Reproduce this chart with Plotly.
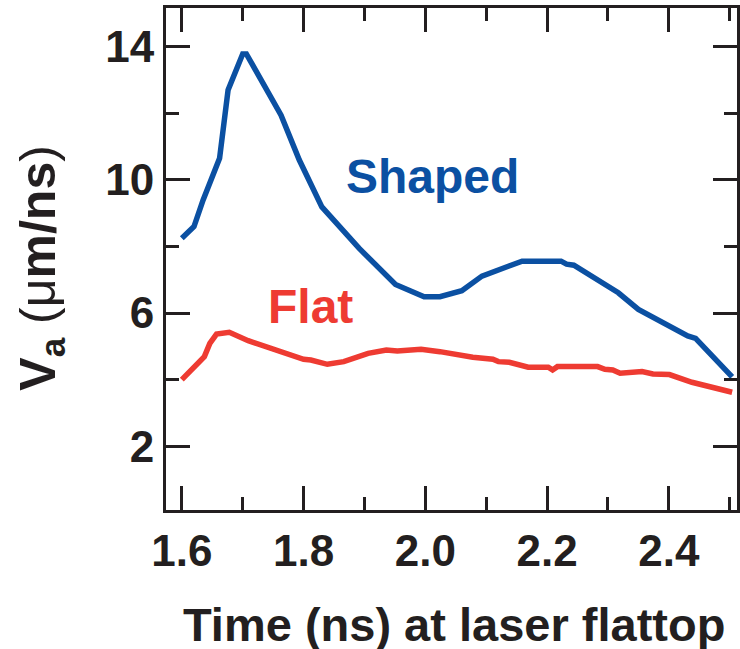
import plotly.graph_objects as go

# Shaped pulse
shaped_t = [1.600, 1.620, 1.635, 1.662, 1.676, 1.684, 1.700, 1.706, 1.752, 1.763, 1.793,
            1.820, 1.830, 1.891, 1.951, 1.998, 2.024, 2.060, 2.093, 2.159, 2.223, 2.232,
            2.244, 2.317, 2.350, 2.431, 2.444, 2.504]
shaped_v = [8.25, 8.60, 9.40, 10.65, 12.71, 13.06, 13.79, 13.79, 12.31, 11.95, 10.60,
            9.50, 9.19, 7.95, 6.86, 6.49, 6.49, 6.67, 7.11, 7.56, 7.56, 7.47,
            7.44, 6.61, 6.11, 5.31, 5.24, 4.08]

# Flat pulse
flat_t = [1.600, 1.637, 1.646, 1.657, 1.678, 1.709, 1.800, 1.812, 1.839, 1.866, 1.906,
          1.936, 1.954, 1.993, 2.024, 2.078, 2.111, 2.120, 2.138, 2.169, 2.202, 2.209,
          2.217, 2.283, 2.295, 2.308, 2.320, 2.356, 2.374, 2.401, 2.438, 2.504]
flat_v = [4.00, 4.69, 5.09, 5.37, 5.42, 5.17, 4.61, 4.59, 4.46, 4.54, 4.79,
          4.89, 4.86, 4.91, 4.84, 4.67, 4.61, 4.54, 4.52, 4.37, 4.37, 4.29,
          4.39, 4.39, 4.31, 4.29, 4.19, 4.24, 4.17, 4.15, 3.92, 3.62]

x_ticks = [1.6, 1.8, 2.0, 2.2, 2.4]
x_ticklabels = ["1.6", "1.8", "2.0", "2.2", "2.4"]
y_ticks = [2, 6, 10, 14]
y_ticklabels = ["2", "6", "10", "14"]

BLUE = "#0b50a2"
RED = "#ee3b32"
INK = "#231f20"
FONT = "Liberation Sans, Arial, Helvetica, sans-serif"

fig = go.Figure()
fig.add_trace(go.Scatter(x=shaped_t, y=shaped_v, mode="lines",
                         line=dict(color=BLUE, width=5.5), showlegend=False))
fig.add_trace(go.Scatter(x=flat_t, y=flat_v, mode="lines",
                         line=dict(color=RED, width=5.5), showlegend=False))

fig.add_annotation(x=2.012, y=10.1, text="<b>Shaped</b>", showarrow=False,
                   font=dict(family=FONT, size=48, color=BLUE))
fig.add_annotation(x=1.812, y=6.2, text="<b>Flat</b>", showarrow=False,
                   font=dict(family=FONT, size=48, color=RED))
fig.add_annotation(xref="paper", yref="paper", x=0.505, y=-0.229,
                   xanchor="center", yanchor="middle",
                   text="<b>Time (ns) at laser flattop</b>", showarrow=False,
                   font=dict(family=FONT, size=47, color=INK))
fig.add_annotation(xref="paper", yref="paper", x=-0.2195, y=0.482,
                   xanchor="center", yanchor="middle", textangle=-90,
                   text="<b>V<sub>a</sub></b> (μ<b>m/ns</b>)", showarrow=False,
                   font=dict(family=FONT, size=50, color=INK))

axis_common = dict(showgrid=False, zeroline=False, showline=True, linecolor=INK,
                   linewidth=3, mirror="ticks", ticks="inside", tickcolor=INK,
                   tickwidth=3, ticklen=24,
                   tickfont=dict(family=FONT, size=44, color=INK))

fig.update_xaxes(range=[1.574, 2.512], tickvals=x_ticks, ticktext=[f"<b>{t}</b>" for t in x_ticklabels],
                 minor=dict(dtick=0.1, tick0=1.5, ticks="inside", ticklen=13, tickwidth=3, tickcolor=INK),
                 **axis_common)
fig.update_yaxes(range=[0.08, 15.17], tickvals=y_ticks, ticktext=[f"<b>{t}</b>" for t in y_ticklabels],
                 minor=dict(dtick=2, tick0=0, ticks="inside", ticklen=13, tickwidth=3, tickcolor=INK),
                 **axis_common)

fig.update_layout(width=740, height=649, margin=dict(l=166, r=0, t=8, b=139),
                  plot_bgcolor="white", paper_bgcolor="white")

fig.write_html("out.html")
